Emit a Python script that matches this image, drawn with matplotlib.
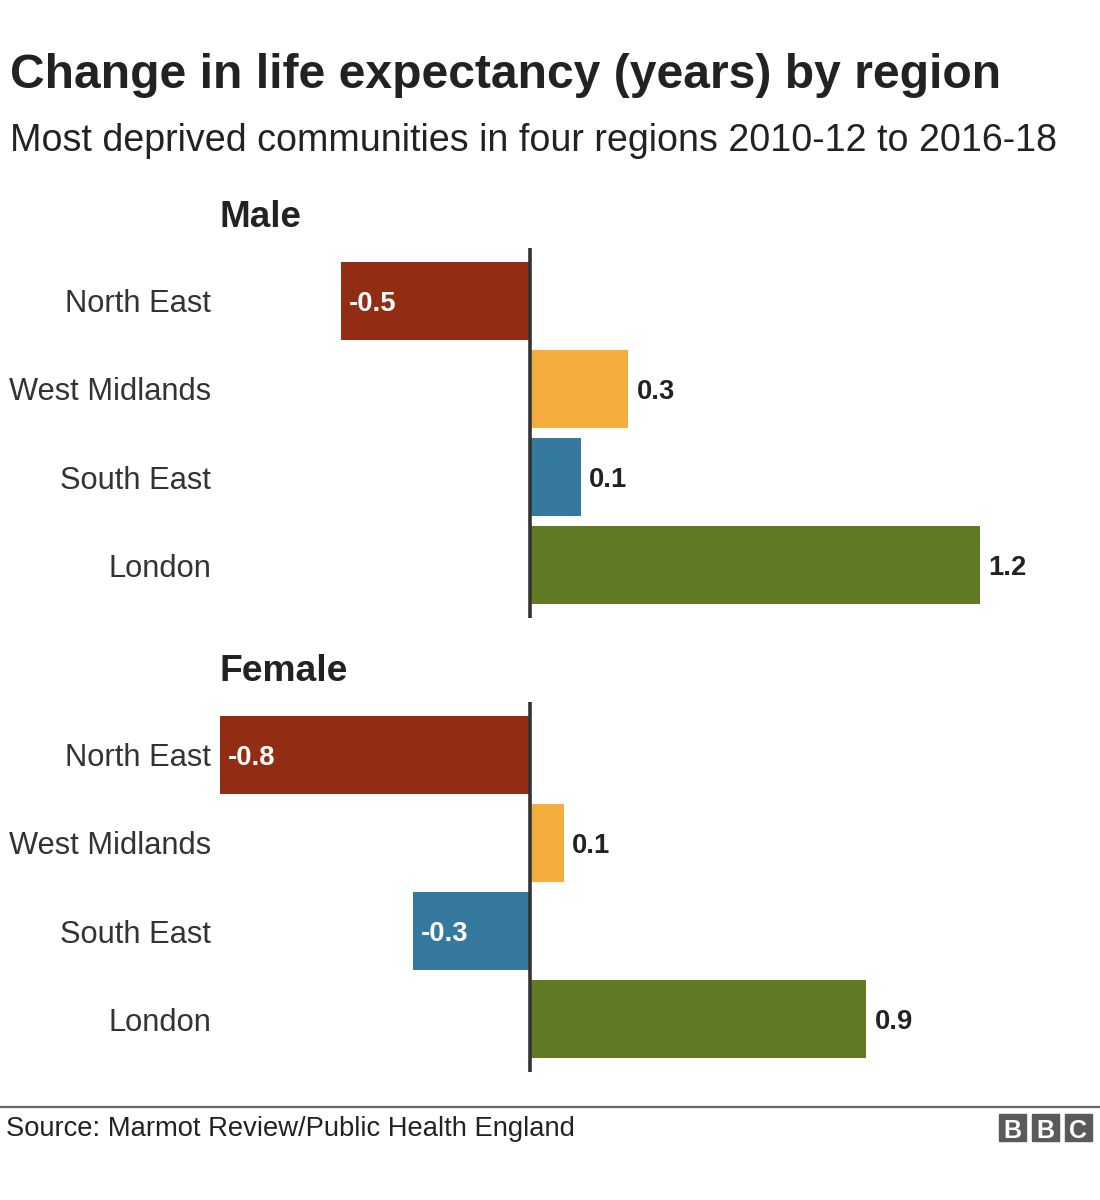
import matplotlib.pyplot as plt
from matplotlib.patches import Rectangle

plt.rcParams['font.family'] = ['Liberation Sans', 'DejaVu Sans']

regions = ['North East', 'West Midlands', 'South East', 'London']
# bar lengths (labels show them to one decimal)
male = [-0.50, 0.26, 0.135, 1.19]
female = [-0.82, 0.09, -0.31, 0.89]
colours = ['#922c12', '#f5ae3d', '#35799f', '#5f7a22']

title = 'Change in life expectancy (years) by region'
subtitle = 'Most deprived communities in four regions 2010-12 to 2016-18'
source = 'Source: Marmot Review/Public Health England'


def panel(ax, values):
    ax.barh(range(len(regions)), values, height=0.88, color=colours)
    ax.axvline(0, color='#333333', lw=2.6)
    ax.set_xlim(-0.82, 1.402)
    ax.set_ylim(3.6, -0.6)
    ax.set_yticks(range(len(regions)))
    ax.set_yticklabels(regions, fontsize=22.2, color='#333333')
    ax.tick_params(axis='y', length=0, pad=6.5)
    ax.set_xticks([])
    for s in ax.spines.values():
        s.set_visible(False)
    for i, v in enumerate(values):
        col = 'white' if v < 0 else '#222222'
        ax.annotate(f'{v:.1f}', (v, i), xytext=(6, 0), textcoords='offset points',
                    ha='left', va='center_baseline', fontsize=19.7,
                    fontweight='bold', color=col)


fig = plt.figure(figsize=(11, 12), dpi=100)

ax1 = fig.add_axes([0.2, 0.485, 0.7636, 0.3083])
ax2 = fig.add_axes([0.2, 0.1067, 0.7636, 0.3083])
panel(ax1, male)
panel(ax2, female)

fig.text(0.009, 0.9265, title, fontsize=34.6, fontweight='bold', color='#222222')
fig.text(0.009, 0.874, subtitle, fontsize=27.1, color='#222222')
fig.text(0.2, 0.8108, 'Male', fontsize=26.5, fontweight='bold', color='#222222')
fig.text(0.2, 0.4325, 'Female', fontsize=26.8, fontweight='bold', color='#222222')

# footer
fig.add_artist(plt.Line2D([0, 1], [0.0775, 0.0775], color='#666666', lw=1.6))
fig.text(0.005, 0.0533, source, fontsize=19.7, color='#222222')
for k, ch in enumerate('BBC'):
    x0 = 999 + k * 33
    fig.add_artist(Rectangle((x0 / 1100, 1 - 1141 / 1200), 27 / 1100, 27 / 1200,
                             transform=fig.transFigure, color='#5a5a5a'))
    fig.text((x0 + 13.5) / 1100, 1 - 1128 / 1200, ch, ha='center', va='center_baseline',
             fontsize=18, fontweight='bold', color='white')

fig.savefig('out.png', dpi=100)
